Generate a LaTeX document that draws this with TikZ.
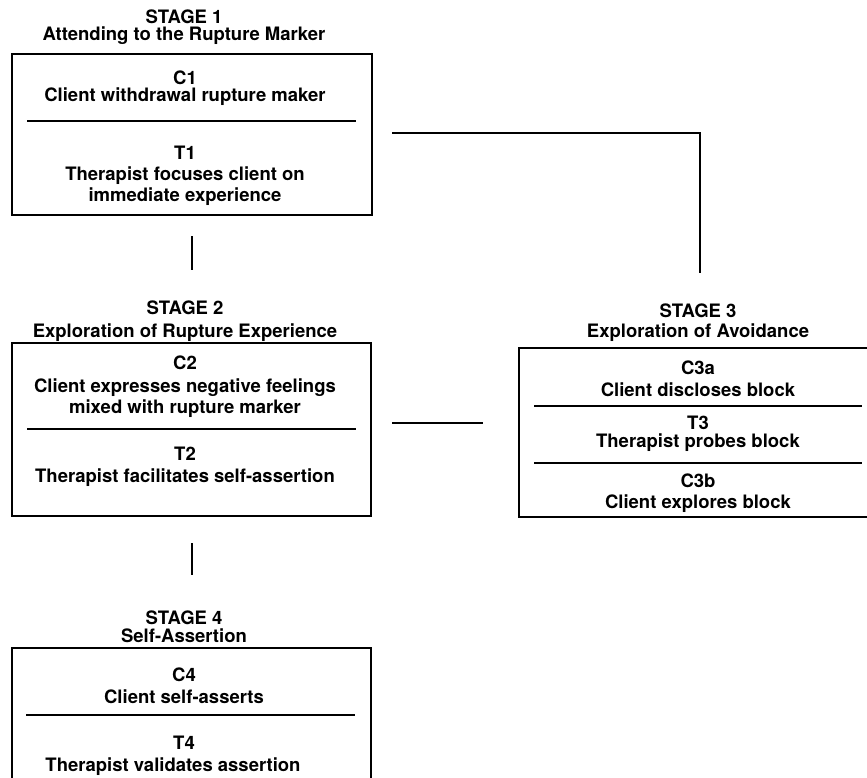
\documentclass[tikz,border=0pt]{standalone}
\usepackage{fontspec}
\setmainfont{TeX Gyre Heros}
\begin{document}
\begin{tikzpicture}[x=1pt,y=-1pt,
  txt/.style={anchor=base,inner sep=0pt,font=\fontsize{18.5}{22}\selectfont\bfseries},
  box/.style={draw,line width=2.4pt,inner sep=0pt,rectangle},
  div/.style={line width=1.9pt},
  conn/.style={line width=2.6pt}]
\useasboundingbox (0,0) rectangle (867,777);
\clip (0,0) rectangle (867,777);
% boxes
\node[box,minimum width=360pt,minimum height=161pt] (b1) at (192,134.5) {};
\node[box,minimum width=359pt,minimum height=173pt] (b2) at (191.5,429.5) {};
\node[box,minimum width=358pt,minimum height=169pt] (b3) at (698,432.5) {};
\node[box,minimum width=359pt,minimum height=160pt] (b4) at (191.5,728) {};
% dividers
\draw[div] (27,121) -- (356,121);
\draw[div] (27,429) -- (356,429);
\draw[div] (534,406) -- (862,406);
\draw[div] (534,463) -- (862,463);
\draw[div] (26,715) -- (355,715);
% stage 1
\node[txt] (s1) at (184,23) {STAGE 1};
\node[txt] (s1t) at (184,40.5) {Attending to the Rupture Marker};
\node[txt] (c1) at (185,84) {C1};
\node[txt] (c1t) at (185,101) {Client withdrawal rupture maker};
\node[txt] (t1) at (185,159) {T1};
\node[txt] (t1t) at (185,180) {Therapist focuses client on};
\node[txt] (t1u) at (185,201) {immediate experience};
% stage 2
\node[txt] (s2) at (185,314) {STAGE 2};
\node[txt] (s2t) at (185,337) {Exploration of Rupture Experience};
\node[txt] (c2) at (185,369) {C2};
\node[txt] (c2t) at (185,392) {Client expresses negative feelings};
\node[txt] (c2u) at (185,413) {mixed with rupture marker};
\node[txt] (t2) at (185,460) {T2};
\node[txt] (t2t) at (185,482) {Therapist facilitates self-assertion};
% stage 3
\node[txt] (s3) at (698,317) {STAGE 3};
\node[txt] (s3t) at (698,337) {Exploration of Avoidance};
\node[txt] (c3a) at (698,374) {C3a};
\node[txt] (c3at) at (698,396) {Client discloses block};
\node[txt] (t3) at (698,429.5) {T3};
\node[txt] (t3t) at (698,447.5) {Therapist probes block};
\node[txt] (c3b) at (698,487) {C3b};
\node[txt] (c3bt) at (698,508) {Client explores block};
% stage 4
\node[txt] (s4) at (184,624.5) {STAGE 4};
\node[txt] (s4t) at (184,642.5) {Self-Assertion};
\node[txt] (c4) at (184,681) {C4};
\node[txt] (c4t) at (184,703) {Client self-asserts};
\node[txt] (t4) at (184,749) {T4};
\node[txt] (t4t) at (173,771) {Therapist validates assertion};
% connectors
\coordinate (k12a) at (192,236);
\coordinate (k12b) at (192,270);
\coordinate (k24a) at (192,543);
\coordinate (k24b) at (192,575);
\coordinate (k23a) at (392,423);
\coordinate (k23b) at (483,423);
\coordinate (k13a) at (392,133);
\coordinate (k13c) at (700,133);
\coordinate (k13b) at (700,273);
\draw[conn] (k12a) -- (k12b);
\draw[conn] (k24a) -- (k24b);
\draw[conn] (k23a) -- (k23b);
\draw[conn] (k13a) -- (k13c) -- (k13b);
\end{tikzpicture}
\end{document}
